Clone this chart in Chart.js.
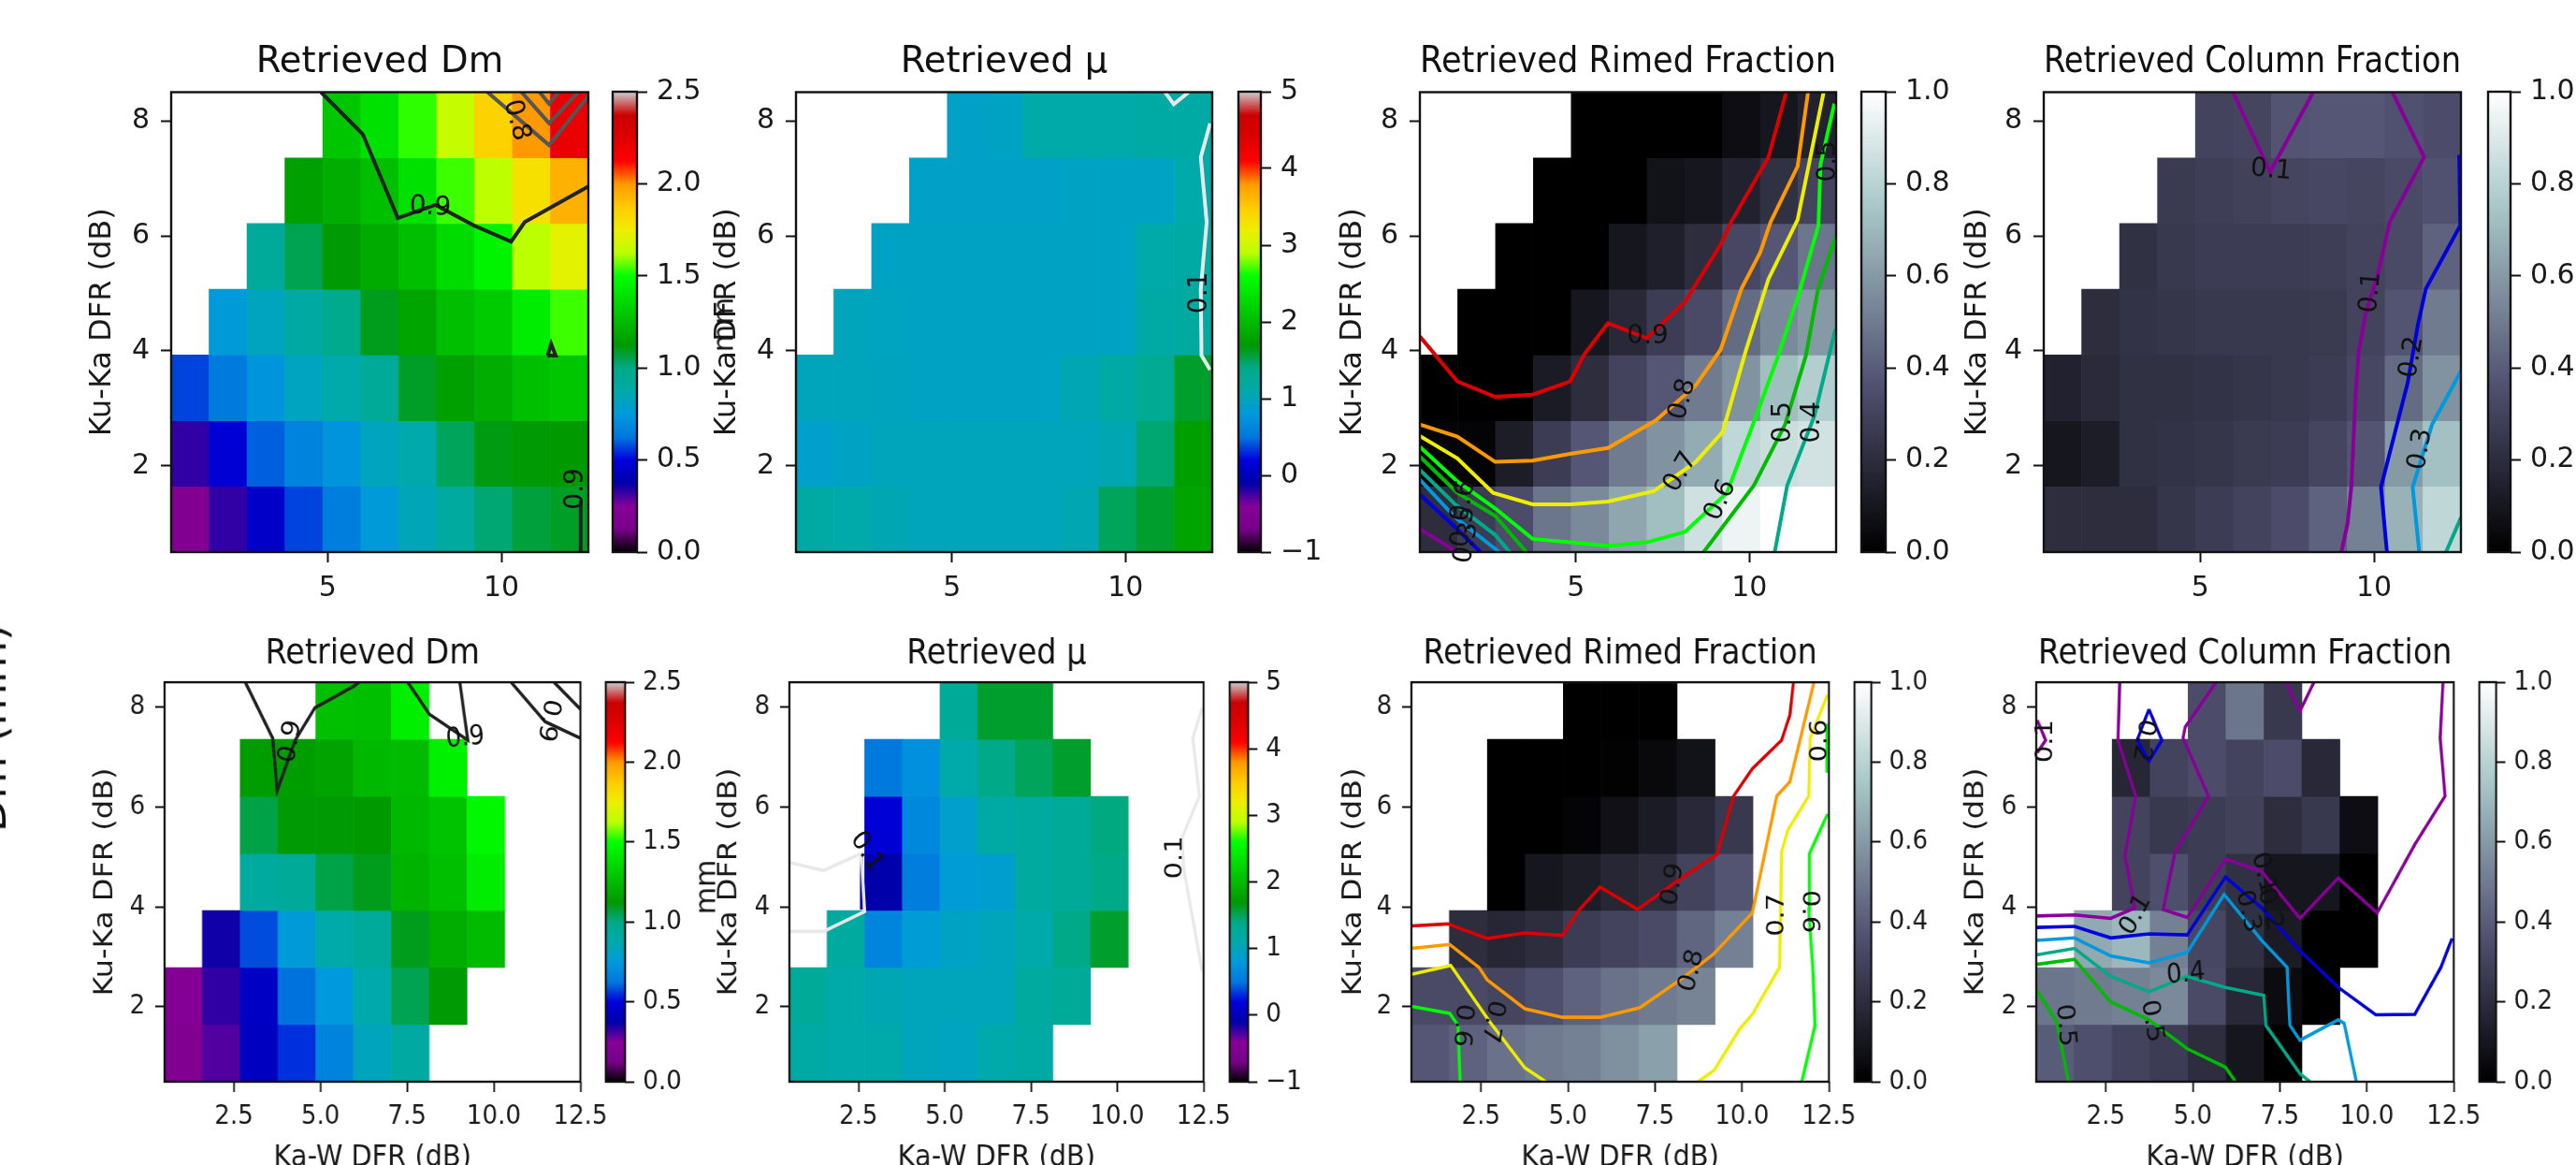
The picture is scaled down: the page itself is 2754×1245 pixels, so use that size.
<!DOCTYPE html>
<html><head><meta charset="utf-8">
<script src="https://cdn.jsdelivr.net/npm/chart.js@4"></script>
<style>
html,body{margin:0;padding:0;background:#fff;width:2754px;height:1245px;overflow:hidden}
canvas{position:absolute;transform-origin:0 0;filter:blur(0.7px)}
.rot{position:absolute;font-family:"DejaVu Sans";color:#111;white-space:nowrap;transform:translate(-50%,-50%) rotate(-90deg);filter:blur(0.7px)}
</style></head><body>
<script>
const n = null;
// column and row centres of the retrieval grid (dB)
const kaWCenters = [1.0455,2.1364,3.2273,4.3182,5.4091,6.5,7.5909,8.6818,9.7727,10.8636,11.9545];
const kuKaEdges = [0.5,1.643,2.786,3.929,5.071,6.214,7.357,8.5];

// cell values, rows from the lowest Ku-Ka DFR upward
const dmTop = [
[.2,.33,.45,.57,.65,.76,.84,.92,1.02,1.07,1.09],
[.33,.48,.60,.67,.73,.83,.87,1.04,1.11,1.12,1.13],
[.57,.64,.73,.82,.875,.94,1.09,1.15,1.2,1.26,1.29],
[n,.76,.83,.9,.98,1.1,1.17,1.26,1.31,1.43,1.54],
[n,n,.93,1.05,1.12,1.19,1.26,1.37,1.46,1.625,1.72],
[n,n,n,1.15,1.2,1.26,1.39,1.54,1.63,1.8,1.94],
[n,n,n,n,1.29,1.39,1.53,1.65,1.85,2.0,2.2]];
const muTop = [
[1.15,1.1,1.05,1.0,1.0,1.0,1.0,1.05,1.5,1.6,1.8],
[.9,.95,1.0,1.0,1.0,1.0,1.0,1.0,1.05,1.45,1.75],
[1.0,1.0,.98,.95,.95,.95,.95,1.05,1.15,1.3,1.6],
[n,1.0,.97,.95,.95,.95,.95,.95,.95,1.15,1.2],
[n,n,.95,.95,.95,.95,.95,.95,.95,1.12,1.15],
[n,n,n,.93,.93,.93,.93,.95,.95,.95,1.1],
[n,n,n,n,.93,.95,1.12,1.12,1.12,1.15,1.15]];
const rimedTop = [
[.2,.27,.34,.48,.55,.64,.72,.86,.95,1.0,1.0],
[.02,.02,.13,.27,.38,.5,.58,.66,.82,.85,.87],
[0,0,0,.12,.2,.3,.38,.5,.58,.72,.78],
[n,0,0,0,.1,.18,.27,.33,.45,.55,.6],
[n,n,0,0,0,.1,.14,.2,.32,.38,.48],
[n,n,n,0,0,0,.08,.1,.15,.22,.3],
[n,n,n,n,0,0,0,0,.06,.1,.15]];
const columnTop = [
[.2,.2,.2,.24,.27,.3,.34,.42,.52,.68,.82],
[.1,.13,.22,.23,.24,.26,.27,.31,.37,.6,.73],
[.15,.19,.22,.22,.23,.24,.25,.27,.32,.45,.58],
[n,.2,.23,.24,.25,.25,.25,.26,.3,.37,.5],
[n,n,.22,.25,.27,.27,.27,.28,.3,.33,.42],
[n,n,n,.26,.28,.29,.31,.32,.31,.33,.36],
[n,n,n,n,.3,.31,.37,.38,.38,.36,.34]];
const dmBottom = [
[.2,.3,.43,.55,.67,.83,.9,n,n,n,n],
[.22,.33,.44,.62,.75,.87,1.05,1.12,n,n,n],
[n,.36,.58,.76,.88,.93,1.1,1.2,1.25,n,n],
[n,n,.92,.94,1.06,1.1,1.22,1.26,1.43,n,n],
[n,n,1.06,1.12,1.12,1.13,1.24,1.28,1.47,n,n],
[n,n,1.14,1.14,1.16,1.24,1.25,1.45,n,n,n],
[n,n,n,n,1.27,1.26,1.44,n,n,n,n]];
const muBottom = [
[1.15,1.1,1.1,1.0,.97,1.1,1.15,n,n,n,n],
[1.25,1.12,1.05,1.0,1.0,1.0,1.2,1.25,n,n,n],
[n,1.2,.62,.85,.95,1.0,1.1,1.4,1.6,n,n],
[n,n,-.1,.55,.85,.88,1.2,1.25,1.4,n,n],
[n,n,.15,.65,.9,1.15,1.2,1.25,1.42,n,n],
[n,n,.52,.72,1.1,1.4,1.5,1.6,n,n,n],
[n,n,n,n,1.25,1.6,1.6,n,n,n,n]];
const rimedBottom = [
[.38,.42,.47,.5,.52,.57,.62,n,n,n,n],
[.33,.33,.31,.35,.42,.47,.5,.53,n,n,n],
[n,.2,.17,.2,.27,.3,.33,.43,.52,n,n],
[n,n,0,.1,.13,.17,.2,.3,.37,n,n],
[n,n,0,0,.02,.07,.12,.18,.25,n,n],
[n,n,0,0,0,.01,.04,.08,n,n,n],
[n,n,n,n,0,0,0,n,n,n,n]];
const columnBottom = [
[.4,.35,.3,.27,.2,.1,0,n,n,n,n],
[.48,.5,.52,.55,.33,.18,.05,0,n,n,n],
[n,.65,.7,.52,.32,.22,.12,0,0,n,n],
[n,n,.3,.35,.27,.22,.1,.1,0,n,n],
[n,n,.3,.25,.27,.29,.2,.25,.06,n,n],
[n,n,.17,.3,.34,.3,.34,.18,n,n,n],
[n,n,n,n,.34,.48,.25,n,n,n,n]];

// contour levels: [level, [x,y], [x,y], ...] in dB
const dmTopContours = [
[.9,[4.81,8.5],[6.01,7.77],[7.02,6.31],[8.1,6.54],[9.21,6.18],[10.28,5.9],[10.67,6.24],[12.5,6.86]],
[.9,[11.33,3.92],[11.43,4.12],[11.56,3.92],[11.33,3.92]],
[.9,[12.28,.5],[12.28,1.4]],
[.8,[9.6,8.5],[11.37,7.58],[12.5,8.43]],
[.8,[10.58,8.5],[11.37,7.96],[12.21,8.5]],
[.8,[11.1,8.5],[11.37,8.3],[11.65,8.5]]];
const muTopContours = [
[.1,[12.44,7.96],[12.17,7.37],[12.34,6.24],[12.17,5.08],[12.19,3.92],[12.44,3.67]],
[.1,[11.14,8.5],[11.39,8.29],[11.82,8.5]]];
const rimedTopContours = [
[.9,[.5,4.25],[1.58,3.47],[2.67,3.2],[3.75,3.24],[4.83,3.47],[5.25,3.95],[5.92,4.48],[7.04,4.22],[8.14,4.85],[9.17,5.85],[9.47,6.24],[10.55,7.37],[11.06,8.5]],
[.8,[.5,2.72],[1.58,2.51],[2.67,2.07],[3.75,2.09],[4.83,2.21],[5.92,2.31],[7.3,2.79],[8.44,3.39],[9.17,4.02],[9.77,5.08],[10.31,5.71],[10.61,6.24],[11.39,7.21],[11.69,8.5]],
[.7,[.5,2.52],[1.58,2.13],[2.61,1.53],[3.75,1.33],[4.83,1.33],[5.92,1.38],[7.24,1.56],[8.44,2.06],[9.23,2.59],[9.89,3.99],[10.55,5.25],[11.39,6.28],[12.14,8.5]],
[.6,[.5,2.33],[1.58,1.73],[2.67,1.26],[3.75,.73],[4.83,.67],[5.92,.61],[7.04,.67],[8.14,.85],[9.35,1.53],[10.19,2.86],[10.79,3.85],[11.39,4.92],[11.99,6.18],[12.05,7.24],[12.45,8.3]],
[.5,[.5,2.16],[1.58,1.53],[2.67,1.13],[3.57,.5]],
[.5,[8.68,.5],[10.13,1.66],[11.03,2.72],[11.63,3.92],[11.97,5.05],[12.48,5.98]],
[.4,[.5,1.93],[1.52,1.33],[2.67,.8],[3.09,.5]],
[.4,[10.73,.5],[11.09,1.66],[11.87,2.86],[12.48,4.38]],
[.3,[.5,1.76],[1.52,1.1],[2.79,.5]],
[.2,[.5,1.5],[1.4,1],[2.25,.5]],
[.1,[.5,.9],[1.58,.5]]];
const columnTopContours = [
[.1,[9.06,.5],[9.24,1],[9.35,1.66],[9.47,3.26],[9.56,3.99],[9.76,4.65],[10.1,5.31],[10.45,6.24],[11.44,7.37],[10.53,8.5]],
[.1,[5.94,8.5],[7.01,7.11],[8.25,8.5]],
[.2,[10.37,.5],[10.2,1.63],[10.97,3.45],[11.26,4.45],[11.49,5.08],[12.48,6.18],[12.45,7.41]],
[.3,[11.3,.5],[11.11,1.63],[11.67,2.72],[12.5,3.65]],
[.4,[12.07,.5],[12.5,1.1]]];
const dmBottomContours = [
[.9,[2.83,8.5],[3.62,7.38],[3.75,6.33],[4.27,7.34],[4.84,7.99],[5.98,8.43],[6.11,8.5]],
[.9,[7.52,8.5],[8.14,7.86],[9.25,7.34],[9.02,8.5]],
[.9,[10.5,8.5],[11.48,7.71],[12.5,7.38]],
[.9,[11.74,8.5],[12.5,7.96]]];
const muBottomContours = [
[.1,[.5,4.89],[1.49,4.73],[2.58,5.07],[2.68,3.91],[1.49,3.51],[.5,3.51]],
[.1,[12.46,7.99],[12.19,7.38],[12.38,6.22],[11.88,5.39],[11.92,4.78],[12.46,2.72]],
[.2,[2.59,5.07],[2.59,3.95]]];
const rimedBottomContours = [
[.9,[.5,3.62],[1.54,3.66],[2.68,3.37],[3.76,3.48],[4.84,3.43],[5.33,3.95],[5.92,4.4],[7,3.95],[8.08,4.49],[9.28,5.05],[9.76,6.22],[10.3,6.77],[11.14,7.34],[11.38,7.85],[11.48,8.5]],
[.8,[.5,3.17],[1.6,3.25],[2.44,2.79],[2.68,2.54],[3.76,1.96],[4.84,1.79],[5.92,1.79],[7.06,1.98],[8.14,2.5],[9.16,3.04],[10.3,3.88],[11,6.22],[11.38,6.51],[12.07,8.5]],
[.7,[.5,2.65],[1.63,2.83],[2.74,1.71],[3.76,.78],[4.36,.5]],
[.7,[8.74,.5],[9.2,.73],[9.94,1.56],[10.3,1.85],[11.08,2.79],[11.14,5.1],[11.32,5.54],[11.92,6.22],[11.96,7.38],[12.46,8.25]],
[.6,[.5,2.01],[1.6,1.87],[1.84,1.63],[1.9,.5]],
[.6,[11.72,.5],[12.1,1.63],[12.04,2.72],[11.92,3.95],[11.94,5.07],[12.46,5.86]],
[.6,[12.44,7.67],[12.44,6.69]]];
const columnBottomContours = [
[.1,[2.9,8.5],[2.85,7.34],[3.36,6.22],[3.05,5.03],[3.33,3.98],[2.64,3.77],[1.6,3.84],[.5,3.82]],
[.1,[5.67,8.5],[4.78,7.6],[4.72,7.38],[5.45,6.22],[4.49,5.1],[4.15,3.95],[4.84,3.79],[5.94,4.96],[6.98,4.71],[8.08,3.77],[9.18,4.58],[10.3,3.88],[11.38,5.25],[12.25,6.22],[12.11,7.38],[12.19,8.5]],
[.1,[7.67,8.5],[8.08,7.92],[8.48,8.5]],
[.1,[.53,7.74],[.77,7.34],[.53,7.09]],
[.2,[.5,3.59],[1.6,3.61],[2.64,3.38],[3.74,3.46],[4.84,3.44],[5.94,4.6],[6.98,3.98],[8.08,3.12],[9.18,2.39],[10.26,1.84],[11.38,1.85],[12.13,2.79],[12.45,3.37]],
[.2,[3.74,7.96],[4.11,7.34],[3.74,6.92],[3.4,7.34],[3.74,7.96]],
[.3,[.5,3.33],[1.6,3.38],[2.64,3.02],[3.74,2.88],[4.84,3.09],[5.9,4.25],[6.98,3.33],[7.71,2.79],[7.79,1.63],[8.08,1.33],[9.18,1.74],[9.35,1.67],[9.7,.5]],
[.4,[.5,3.04],[1.6,3.17],[2.64,2.61],[3.74,2.3],[4.84,2.61],[5.94,2.39],[7.04,2.23],[7.1,1.63],[8.08,.66],[8.37,.5]],
[.5,[.5,2.85],[1.6,2.95],[2.64,2.1],[3.74,1.74],[4.84,1.16],[5.94,.79],[6.23,.5]],
[.5,[.53,2.32],[1.08,1.71],[1.43,.5]]];

// contour labels: text, x, y, reading angle in degrees
const dmTopLabels = [["0.9",7.95,6.5,3],["0.8",10.43,8.01,75],["0.9",12.15,1.6,-90]];
const muTopLabels = [["0.1",12.13,5.01,-90]];
const rimedTopLabels = [["0.9",7.07,4.25,0],["0.8",8.08,3.16,-75],["0.7",8.02,1.89,-60],["0.6",9.17,1.4,-65],["0.5",10.97,2.76,-90],["0.4",11.81,2.76,-90],["0.5",12.27,7.3,-90],["0.6",1.76,1.39,-80],["0.5",1.76,.94,-80],["0.3",1.85,.66,-80]];
const columnTopLabels = [["0.1",7.04,7.14,5],["0.1",9.91,5.02,-85],["0.2",11.09,3.89,-80],["0.3",11.34,2.29,-80]];
const dmBottomLabels = [["0.9",4.14,7.31,-80],["0.9",9.18,7.38,-5],["0.9",11.57,7.74,100]];
const muBottomLabels = [["0.1",11.67,4.99,-90],["0.1",2.74,5.1,55]];
const rimedBottomLabels = [["0.9",8.02,4.45,-80],["0.8",8.56,2.72,-75],["0.7",11.02,3.84,-90],["0.6",11.94,3.91,90],["0.7",2.83,1.71,100],["0.6",1.96,1.63,95],["0.6",12.25,7.33,-90]];
const columnBottomLabels = [["0.1",.77,7.32,-90],["0.2",3.57,7.34,100],["0.1",3.36,3.84,-60],["0.4",4.8,2.65,-5],["0.5",1.33,1.63,85],["0.5",3.82,1.71,80],["0.3",6.58,3.91,75],["0.2",7.21,3.95,75],["0.1",7.03,4.67,75]];

const titleDm = "Retrieved Dm";
const titleMu = "Retrieved \u03BC";
const titleRimed = "Retrieved Rimed Fraction";
const titleColumn = "Retrieved Column Fraction";
const yAxisLabel = "Ku-Ka DFR (dB)";
const xAxisLabel = "Ka-W DFR (dB)";
const yTicks = [2,4,6,8];
const xTicksTop = [5,10];
const xTicksBottom = [2.5,5,7.5,10,12.5];
const dmBarTicks = [0,.5,1,1.5,2,2.5];
const muBarTicks = [-1,0,1,2,3,4,5];
const fracBarTicks = [0,.2,.4,.6,.8,1];

// ---- colour maps ----
const nipyTable = [[0,0,0],[119,0,136],[136,0,153],[0,0,170],[0,0,221],[0,119,221],[0,153,221],[0,170,170],[0,170,136],[0,153,0],[0,187,0],[0,221,0],[0,255,0],[187,255,0],[238,238,0],[255,204,0],[255,153,0],[255,0,0],[221,0,0],[204,0,0],[204,204,204]];
function nipy(t){t=Math.max(0,Math.min(1,t));const p=t*20,i=Math.min(19,Math.floor(p)),f=p-i,a=nipyTable[i],b=nipyTable[i+1];
  return `rgb(${a.map((c,k)=>Math.round(c+(b[k]-c)*f)).join(',')})`;}
function pw(t,pts){for(let i=1;i<pts.length;i++){if(t<=pts[i][0]){const f=(t-pts[i-1][0])/(pts[i][0]-pts[i-1][0]);return pts[i-1][1]+(pts[i][1]-pts[i-1][1])*f;}}return 1;}
function bone(t){t=Math.max(0,Math.min(1,t));
  const r=pw(t,[[0,0],[.746032,.652778],[1,1]]),g=pw(t,[[0,0],[.365079,.319444],[.746032,.777778],[1,1]]),b=pw(t,[[0,0],[.365079,.444444],[1,1]]);
  return `rgb(${Math.round(r*255)},${Math.round(g*255)},${Math.round(b*255)})`;}

const fontFamily = '"DejaVu Sans"';
const ink = '#1a1a1a';

function framePlugin(labels, labelSize){
  return {id:'frame',
    afterDraw(chart){
      const c=chart.ctx,a=chart.chartArea;
      c.save();
      if(labels){
        c.font=`${labelSize}px ${fontFamily}`;c.fillStyle='#111';c.textAlign='center';c.textBaseline='middle';
        labels.forEach(([t,x,y,r])=>{
          c.save();c.translate(chart.scales.x.getPixelForValue(x),chart.scales.y.getPixelForValue(y));
          c.rotate(r*Math.PI/180);c.fillText(t,0,0);c.restore();
        });
      }
      c.strokeStyle='#111';c.lineWidth=2.4;c.strokeRect(a.left,a.top,a.right-a.left,a.bottom-a.top);
      c.restore();
    }};
}

function makeCanvas(left,top,w,h,sx){
  const cv=document.createElement('canvas');
  const lw=Math.round(w/sx);
  cv.width=lw;cv.height=h;
  cv.style.left=left+'px';cv.style.top=top+'px';cv.style.width=lw+'px';cv.style.height=h+'px';
  cv.style.transform=`scaleX(${sx})`;
  document.body.appendChild(cv);
  return cv;
}

function panel(o){
  const mL=190, sx=o.sx;
  const tFont=o.titleSize, tPad=o.titlePad;
  const titleH=tFont+tPad;
  const cv=makeCanvas(o.L-mL,o.T-titleH,(o.R-o.L)+2*mL,titleH+(o.B-o.T)+o.xH,sx);
  const cells=[],colors=[];
  o.grid.forEach((row,r)=>row.forEach((v,c)=>{
    if(v===null)return;
    cells.push({x:kaWCenters[c],y:[kuKaEdges[r],kuKaEdges[r+1]]});
    colors.push(o.cmap((v-o.vmin)/(o.vmax-o.vmin)));
  }));
  const datasets=[{type:'bar',data:cells,backgroundColor:colors,borderWidth:0,barPercentage:1,categoryPercentage:1,order:10}];
  o.contours.forEach(([lev,...pts])=>{
    datasets.push({type:'line',data:pts.map(p=>({x:p[0],y:p[1]})),borderColor:o.lineColor(lev),borderWidth:o.lw,pointRadius:0,tension:0,fill:false,order:1,borderJoinStyle:'miter',spanGaps:false});
  });
  new Chart(cv,{type:'bar',data:{datasets},plugins:[framePlugin(o.labels,o.labelSize)],options:{
    responsive:false,animation:false,devicePixelRatio:1,
    layout:{padding:{left:0,right:Math.round(mL/sx),top:0,bottom:0}},
    plugins:{legend:{display:false},tooltip:{enabled:false},
      title:{display:true,fullSize:false,text:o.title,color:'#111',font:{family:fontFamily,size:tFont,lineHeight:1,weight:'normal'},padding:{top:0,bottom:tPad}}},
    scales:{
      x:{type:'linear',min:.5,max:12.5,offset:false,
        afterBuildTicks:s=>{s.ticks=o.xTicks.map(v=>({value:v}));},
        afterFit:s=>{s.height=o.xH;},
        grid:{drawOnChartArea:false,drawTicks:true,tickLength:11,tickWidth:2,tickColor:'#111',offset:false},
        border:{display:false},
        title:o.xTitle?{display:true,text:o.xTitle,color:ink,font:{family:fontFamily,size:32,lineHeight:1},padding:{top:0,bottom:o.xTitlePad}}:{display:false},
        ticks:{color:ink,font:{family:fontFamily,size:o.tickSize,lineHeight:1},padding:o.xTickPad,maxRotation:0,autoSkip:false,
          callback:v=>o.xFixed?v.toFixed(1):String(v)}},
      y:{type:'linear',min:.5,max:8.5,position:'left',
        afterBuildTicks:s=>{s.ticks=yTicks.map(v=>({value:v}));},
        afterFit:s=>{s.width=Math.round(mL/sx);},
        grid:{drawOnChartArea:false,drawTicks:true,tickLength:11,tickWidth:2,tickColor:'#111'},
        border:{display:false},
        title:{display:true,text:yAxisLabel,color:ink,font:{family:fontFamily,size:32,lineHeight:1},padding:{top:Math.round((mL-o.yTitleOff)/sx-16),bottom:0}},
        ticks:{color:ink,font:{family:fontFamily,size:o.tickSize,lineHeight:1},padding:o.yTickPad,autoSkip:false,callback:v=>String(v)}}
    }}});
}

function colorbar(o){
  const sx=o.sx,pad=30,wR=100;
  const cv=makeCanvas(o.CL-4,o.T-pad,(o.CR-o.CL)+wR+4,(o.B-o.T)+2*pad,sx);
  const steps=200,cells=[],colors=[];
  for(let i=0;i<steps;i++){
    const a=o.vmin+(o.vmax-o.vmin)*i/steps,b=o.vmin+(o.vmax-o.vmin)*(i+1.6)/steps;
    cells.push({x:0,y:[a,Math.min(b,o.vmax)]});colors.push(o.cmap((i+.5)/steps));
  }
  new Chart(cv,{type:'bar',data:{datasets:[{data:cells,backgroundColor:colors,borderWidth:0,barPercentage:1,categoryPercentage:1}]},
    plugins:[framePlugin(null,0)],options:{
    responsive:false,animation:false,devicePixelRatio:1,
    layout:{padding:{left:Math.round(4/sx),right:0,top:pad,bottom:pad}},
    plugins:{legend:{display:false},tooltip:{enabled:false}},
    scales:{
      x:{type:'linear',display:false,min:-.5,max:.5,offset:false,afterBuildTicks:s=>{s.ticks=[{value:0}];},grid:{display:false}},
      y:{type:'linear',position:'right',min:o.vmin,max:o.vmax,
        afterBuildTicks:s=>{s.ticks=o.ticks.map(v=>({value:v}));},
        afterFit:s=>{s.width=Math.round(wR/sx);},
        grid:{drawOnChartArea:false,drawTicks:true,tickLength:11,tickWidth:2,tickColor:'#111'},
        border:{display:false},
        ticks:{color:ink,font:{family:fontFamily,size:o.tickSize,lineHeight:1},padding:o.pad,autoSkip:false,
          callback:v=>{const s=o.dec?Number(v).toFixed(1):String(v);return s.replace('-','\u2212');}}}
    }}});
}

const spectralLine=lev=>nipy(lev);
const dmLine=lev=>lev>=.9?'#222222':'#555555';
const muLine=lev=>lev<=.1?'#e9e9e9':'#000096';

const topRow={T:98,B:590,xH:60,sx:1,titleSize:38.5,titlePad:12,tickSize:30,labelSize:28,lw:4,xTicks:xTicksTop,xFixed:false,xTickPad:13,yTickPad:12};
const botRow={T:728.7,B:1155.8,xH:100,sx:.9,titleSize:37.1,titlePad:11,tickSize:29,labelSize:29,lw:3.6,xTicks:xTicksBottom,xFixed:true,xTickPad:12,yTickPad:12,xTitle:xAxisLabel,xTitlePad:2};

panel({...topRow,L:183,R:629,yTitleOff:73,title:titleDm,grid:dmTop,vmin:0,vmax:2.5,cmap:nipy,contours:dmTopContours,labels:dmTopLabels,lineColor:dmLine});
panel({...topRow,L:851,R:1296,yTitleOff:73,title:titleMu,grid:muTop,vmin:-1,vmax:5,cmap:nipy,contours:muTopContours,labels:muTopLabels,lineColor:muLine});
panel({...topRow,L:1518.3,R:1963.4,yTitleOff:71,title:titleRimed,grid:rimedTop,vmin:0,vmax:1,cmap:bone,contours:rimedTopContours,labels:rimedTopLabels,lineColor:spectralLine});
panel({...topRow,L:2185.3,R:2631.2,yTitleOff:70,title:titleColumn,grid:columnTop,vmin:0,vmax:1,cmap:bone,contours:columnTopContours,labels:columnTopLabels,lineColor:spectralLine});
panel({...botRow,L:175.5,R:619.5,yTitleOff:63.5,title:titleDm,grid:dmBottom,vmin:0,vmax:2.5,cmap:nipy,contours:dmBottomContours,labels:dmBottomLabels,lineColor:dmLine});
panel({...botRow,L:844,R:1287,yTitleOff:64,title:titleMu,grid:muBottom,vmin:-1,vmax:5,cmap:nipy,contours:muBottomContours,labels:muBottomLabels,lineColor:muLine});
panel({...botRow,L:1508.5,R:1955,yTitleOff:61,title:titleRimed,grid:rimedBottom,vmin:0,vmax:1,cmap:bone,contours:rimedBottomContours,labels:rimedBottomLabels,lineColor:spectralLine});
panel({...botRow,L:2176.7,R:2622.5,yTitleOff:63.7,title:titleColumn,grid:columnBottom,vmin:0,vmax:1,cmap:bone,contours:columnBottomContours,labels:columnBottomLabels,lineColor:spectralLine});

const cbTop={T:98,B:590,sx:1,tickSize:30,pad:10};
const cbBot={T:728.7,B:1155.8,sx:.9,tickSize:29,pad:10};
colorbar({...cbTop,CL:655.4,CR:681,vmin:0,vmax:2.5,cmap:nipy,ticks:dmBarTicks,dec:true});
colorbar({...cbTop,CL:1323.8,CR:1348,vmin:-1,vmax:5,cmap:nipy,ticks:muBarTicks,dec:false});
colorbar({...cbTop,CL:1990,CR:2016,vmin:0,vmax:1,cmap:bone,ticks:fracBarTicks,dec:true});
colorbar({...cbTop,CL:2660,CR:2684,vmin:0,vmax:1,cmap:bone,ticks:fracBarTicks,dec:true});
colorbar({...cbBot,CL:647.6,CR:668,vmin:0,vmax:2.5,cmap:nipy,ticks:dmBarTicks,dec:true});
colorbar({...cbBot,CL:1315,CR:1334,vmin:-1,vmax:5,cmap:nipy,ticks:muBarTicks,dec:false});
colorbar({...cbBot,CL:1982.6,CR:2000.4,vmin:0,vmax:1,cmap:bone,ticks:fracBarTicks,dec:true});
colorbar({...cbBot,CL:2650.5,CR:2668,vmin:0,vmax:1,cmap:bone,ticks:fracBarTicks,dec:true});

function rotText(t,x,y,size){
  const d=document.createElement('div');d.className='rot';d.textContent=t;
  d.style.left=x+'px';d.style.top=y+'px';d.style.fontSize=size+'px';
  document.body.appendChild(d);
}
rotText('mm',773,347,30);
rotText('mm',754,948,30);
rotText('Dm (mm)',-10,778,46.5);
</script>
</body></html>
